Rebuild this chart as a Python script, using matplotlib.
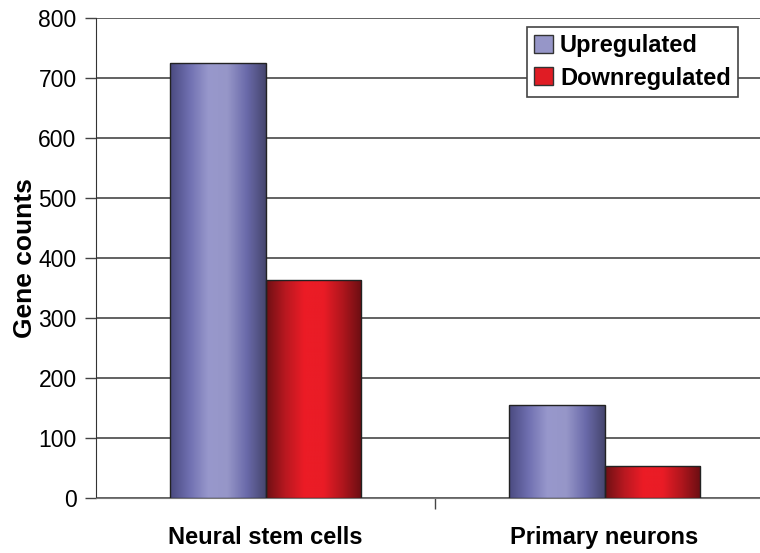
import numpy as np
import matplotlib.pyplot as plt
from matplotlib.colors import LinearSegmentedColormap
from matplotlib.patches import Patch

plt.rcParams['font.family'] = ['Liberation Sans', 'DejaVu Sans']

categories = ["Neural stem cells", "Primary neurons"]
series = ["Upregulated", "Downregulated"]
upregulated = [725, 155]
downregulated = [363, 53]
yticks = [0, 100, 200, 300, 400, 500, 600, 700, 800]

# horizontal shading used for the "cylinder" look
blue_cmap = LinearSegmentedColormap.from_list(
    "blue", ["#4a4a80", "#6f6fb0", "#9898cc", "#9696c8", "#6a6aaa", "#46466e"])
red_cmap = LinearSegmentedColormap.from_list(
    "red", ["#6e1014", "#b81820", "#ec1c26", "#ea1c26", "#b0161d", "#6a0e12"])

fig = plt.figure(figsize=(7.6, 5.53), dpi=100)
ax = fig.add_axes([96 / 760, 55 / 553, 678 / 760, 480 / 553])

width = 0.283
x = np.arange(len(categories))
grad = np.linspace(0, 1, 256).reshape(1, -1)

for vals, cmap, off in [(upregulated, blue_cmap, -width / 2),
                        (downregulated, red_cmap, width / 2)]:
    for xi, v in zip(x, vals):
        x0 = xi + off - width / 2
        ax.imshow(grad, cmap=cmap, aspect="auto", extent=(x0, x0 + width, 0, v),
                  zorder=3, interpolation="bicubic")
        ax.bar(xi + off, v, width=width, facecolor="none", edgecolor="#222222",
               linewidth=1.0, zorder=4)

ax.set_xlim(-0.5, 1.5)
ax.set_ylim(0, 800)
ax.set_yticks(yticks)
ax.yaxis.grid(True, color="#555555", linewidth=1.3, zorder=0)
ax.set_axisbelow(True)

ax.set_xticks([0.5])
ax.set_xticklabels([""])
ax.tick_params(axis="x", length=8, width=1, color="#444444", direction="out")
for xi, c in zip(x, categories):
    ax.annotate(c, xy=(xi, 0), xycoords="data", xytext=(0, -28.5),
                textcoords="offset points", ha="center", va="center",
                fontsize=17, fontweight="bold")

ax.tick_params(axis="y", length=8, width=1, color="#444444", labelsize=16.5,
               pad=6)
ax.set_ylabel("Gene counts", fontsize=19, fontweight="bold", labelpad=1)

for s in ["top", "right"]:
    ax.spines[s].set_visible(False)
ax.spines["left"].set_color("#333333")
ax.spines["bottom"].set_color("#777777")

handles = [Patch(facecolor="#9696c8", edgecolor="#333333", label=series[0]),
           Patch(facecolor="#e01c24", edgecolor="#333333", label=series[1])]
leg = fig.legend(handles=handles, loc="upper left",
                 bbox_to_anchor=(527 / 760, 1 - 27 / 553),
                 prop={"weight": "bold", "size": 17}, fancybox=False,
                 framealpha=1, edgecolor="#444444", handlelength=0.8,
                 handleheight=0.8, handletextpad=0.3, borderpad=0.3,
                 labelspacing=0.4, borderaxespad=0)
leg.get_frame().set_linewidth(1.2)

fig.savefig("out.png", dpi=100)
